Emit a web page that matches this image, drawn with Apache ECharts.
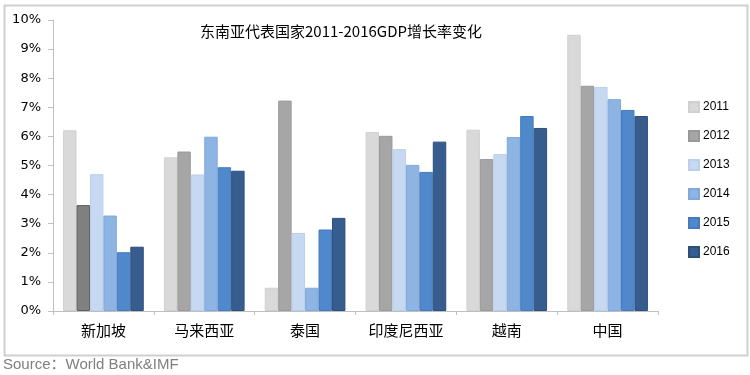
<!DOCTYPE html>
<html>
<head>
<meta charset="utf-8">
<script src="https://cdn.jsdelivr.net/npm/echarts@6/dist/echarts.min.js"></script>
<style>html,body{margin:0;padding:0;background:#fff;}#c{width:750px;height:375px;}</style>
</head>
<body>
<div id="c"></div>
<script>
var categories = ['新加坡', '马来西亚', '泰国', '印度尼西亚', '越南', '中国'];
var years = ['2011', '2012', '2013', '2014', '2015', '2016'];
var v2011 = [6.21, 5.28, 0.80, 6.15, 6.23, 9.49];
var v2012 = [3.64, 5.48, 7.23, 6.02, 5.22, 7.74];
var v2013 = [4.70, 4.69, 2.68, 5.56, 5.39, 7.70];
var v2014 = [3.28, 5.99, 0.80, 5.02, 5.98, 7.28];
var v2015 = [2.02, 4.94, 2.80, 4.78, 6.70, 6.91];
var v2016 = [2.21, 4.82, 3.20, 5.82, 6.29, 6.70];
var yTicks = [0, 1, 2, 3, 4, 5, 6, 7, 8, 9, 10];

var seriesValues = [v2011, v2012, v2013, v2014, v2015, v2016];
var colors = ['#d9d9d9', '#a6a6a6', '#c6d9f1', '#8eb4e3', '#5088cc', '#375d8e'];
var borders = ['#d0d0d0', '#999999', '#b9cfea', '#7fa8dc', '#4679bd', '#2c4f7e'];

var chart = echarts.init(document.getElementById('c'), null, {renderer: 'canvas'});
var series = years.map(function (y, i) {
  return {
    name: y,
    type: 'bar',
    barGap: '0%',
    barCategoryGap: '20%',
    data: seriesValues[i].map(function (v, j) {
      if (i === 1 && j === 0) {
        return {value: v, itemStyle: {color: '#808080', borderColor: '#5f5f5f', borderWidth: 1}};
      }
      return v;
    }),
    itemStyle: {color: colors[i], borderColor: borders[i], borderWidth: 1},
    emphasis: {disabled: true}
  };
});

chart.setOption({
  animation: false,
  backgroundColor: '#ffffff',
  title: {
    text: '东南亚代表国家2011-2016GDP增长率变化',
    left: 195,
    top: 19,
    textStyle: {fontFamily: 'Noto Sans CJK SC', fontSize: 15, fontWeight: 'normal', color: '#000'}
  },
  legend: {
    orient: 'vertical',
    left: 683,
    top: 96,
    itemWidth: 10,
    itemHeight: 10,
    itemGap: 17,
    icon: 'rect',
    textStyle: {fontFamily: 'Liberation Sans', fontSize: 12, color: '#000', padding: [0, 0, 0, -1]},
    data: years
  },
  grid: {left: 53, right: 92, top: 20, bottom: 64},
  xAxis: {
    type: 'category',
    data: categories,
    axisLine: {lineStyle: {color: '#bfbfbf', width: 1}},
    axisTick: {show: true, length: 4, lineStyle: {color: '#bfbfbf'}},
    axisLabel: {fontFamily: 'Noto Sans CJK SC', fontSize: 15, color: '#000', margin: 12}
  },
  yAxis: {
    type: 'value',
    min: yTicks[0],
    max: yTicks[yTicks.length - 1],
    interval: 1,
    axisLine: {show: true, lineStyle: {color: '#bfbfbf', width: 1}},
    axisTick: {show: true, length: 5, lineStyle: {color: '#bfbfbf'}},
    splitLine: {show: false},
    axisLabel: {formatter: '{value}%', fontFamily: 'DejaVu Sans', fontSize: 13, color: '#000', margin: 12}
  },
  graphic: [
    {type: 'rect', left: 2, top: 3, shape: {width: 743, height: 350}, style: {fill: 'none', stroke: '#cfcfcf', lineWidth: 2}, silent: true, z: -1},
    {type: 'text', left: 3, top: 357, style: {text: 'Source：World Bank&IMF', fill: '#7f7f7f', font: '15px "Liberation Sans", "Noto Sans CJK SC"'}}
  ],
  series: series
});
</script>
</body>
</html>
